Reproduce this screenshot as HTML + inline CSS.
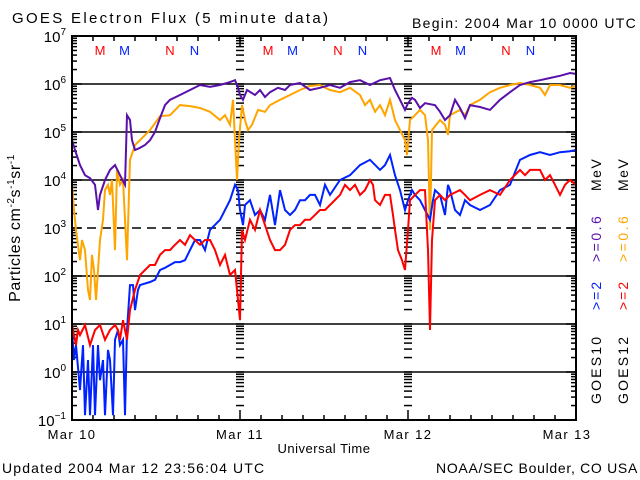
<!DOCTYPE html>
<html><head><meta charset="utf-8">
<style>
html,body{margin:0;padding:0;background:#fff;}
svg{display:block;font-family:"Liberation Sans",sans-serif;}
</style></head>
<body>
<svg id="chart" width="640" height="480" viewBox="0 0 640 480">
<rect x="0" y="0" width="640" height="480" fill="#fff"/>
<text x="12" y="23" font-size="15" letter-spacing="2.3">GOES Electron Flux (5 minute data)</text>
<text x="637" y="28" font-size="14" text-anchor="end" letter-spacing="1.3">Begin: 2004 Mar 10 0000 UTC</text>
<g id="grid"></g>
<g id="ticks"></g>
<g id="series"></g>
<rect x="72" y="36" width="504" height="384" fill="none" stroke="#000" stroke-width="2"/>
<g id="labels" font-size="15"></g>
<text transform="translate(20,228) rotate(-90)" font-size="16" text-anchor="middle" letter-spacing="0.6">Particles cm<tspan font-size="10" dy="-6">-2</tspan><tspan dy="6">s</tspan><tspan font-size="10" dy="-6">-1</tspan><tspan dy="6">sr</tspan><tspan font-size="10" dy="-6">-1</tspan></text>
<text x="324" y="453" font-size="13" text-anchor="middle" letter-spacing="0.5">Universal Time</text>
<text x="2" y="473" font-size="14" letter-spacing="1.15">Updated 2004 Mar 12 23:56:04 UTC</text>
<text x="638" y="473" font-size="14" text-anchor="end" letter-spacing="0.7">NOAA/SEC Boulder, CO USA</text>
<g font-size="14">
  <text transform="translate(601,404) rotate(-90)" fill="#000" letter-spacing="2.2">GOES10</text>
  <text transform="translate(601,310) rotate(-90)" fill="#0022ff" letter-spacing="2">&gt;=2</text>
  <text transform="translate(601,262) rotate(-90)" fill="#5a10aa" letter-spacing="2.5">&gt;=0.6</text>
  <text transform="translate(601,191) rotate(-90)" fill="#000" letter-spacing="1.5">MeV</text>
  <text transform="translate(628,404) rotate(-90)" fill="#000" letter-spacing="2.2">GOES12</text>
  <text transform="translate(628,310) rotate(-90)" fill="#ff0000" letter-spacing="2">&gt;=2</text>
  <text transform="translate(628,262) rotate(-90)" fill="#ffa500" letter-spacing="2.5">&gt;=0.6</text>
  <text transform="translate(628,191) rotate(-90)" fill="#000" letter-spacing="1.5">MeV</text>
</g>
<g id="markers" font-size="13"></g>
</svg>
<script>
const xTickLabels = ["Mar 10","Mar 11","Mar 12","Mar 13"];
const yDecades = [-1,0,1,2,3,4,5,6,7];
const markerHours = [4,7.5,14,17.5,28,31.5,38,41.5,52,55.5,62,65.5];
const markerLetters = ["M","M","N","N","M","M","N","N","M","M","N","N"];
const markerColors = ["#ff0000","#0022ff","#ff0000","#0022ff","#ff0000","#0022ff","#ff0000","#0022ff","#ff0000","#0022ff","#ff0000","#0022ff"];

const g10LowHours = [0,0.43,1.14,1.86,2.57,3.29,3.71,4,4.71,5.43,6.14,6.86,7.57,7.86,8.29,8.57,9,9.71,10.43,11.14,11.86,12.57,13.29,14,15.43,16.86,18.29,19.71,21.14,22.57,23.29,23.71,24,24.43,25,26.14,26.86,27.57,28.29,29.43,30.43,31.14,32.57,34,35.43,36.86,38.29,39.71,41.14,42.57,44,45.43,46.14,46.86,47.57,48,48.57,49,49.71,50.43,51.86,52.57,53.29,54,54.71,55.43,56.14,56.86,58.29,59.71,61.14,62.57,64,65.43,66.86,68.29,69.71,71.14,72];
const g10LowLog = [4.83,4.625,4.31,4.10,4.04,3.90,3.375,3.69,4.0,4.21,4.31,4.10,3.90,5.35,5.25,4.83,4.625,4.67,4.73,4.83,5.0,5.29,5.56,5.67,5.77,5.875,5.98,5.94,5.98,6.04,6.08,5.92,5.77,5.67,5.875,5.77,5.875,5.73,5.83,5.92,5.875,5.98,6.02,5.875,5.92,5.98,5.92,6.04,6.08,5.98,6.08,6.125,5.875,5.67,5.46,5.6,5.71,5.67,5.5,5.6,5.56,5.42,5.25,5.35,5.67,5.5,5.29,5.56,5.52,5.46,5.67,5.83,5.98,6.04,6.08,6.125,6.17,6.23,6.21];

const g12LowHours = [0,0.29,0.57,1.14,1.43,1.86,2.29,2.57,2.86,3.14,3.43,3.71,4,4.43,4.71,5.14,5.43,5.71,6.14,6.43,6.86,7.29,7.57,7.86,8.29,9,9.71,11.14,12.57,14,15.43,16.86,18.29,19.71,21.14,21.86,22.57,23,23.29,23.57,23.86,24.29,24.71,25.14,25.71,26.57,27.57,28.29,29.71,31.14,32.57,34,35.43,36.86,38.29,39.71,41.14,41.86,42.57,43.29,44,44.71,45.43,46.14,46.86,47.57,47.86,48.29,49,49.71,50.43,50.86,51.14,51.43,52.57,53.29,53.71,54,55.43,56.14,56.86,58.29,59.71,61.14,62.57,64,65.43,66.86,67.57,68.29,69.71,71.14,72];
const g12LowLog = [3.9,3.375,2.96,2.33,2.75,2.54,1.71,1.5,2.44,2.125,1.5,2.125,2.75,3.17,3.79,3.9,3.69,4.0,2.54,4.21,3.9,4.0,3.17,2.33,4.42,4.73,4.83,5.04,5.33,5.35,5.56,5.54,5.5,5.42,5.25,5.35,5.15,5.67,4.83,4.0,4.83,5.56,5.25,5.04,5.15,5.46,5.42,5.56,5.67,5.77,5.875,5.96,5.98,5.875,5.83,5.92,5.77,5.56,5.67,5.42,5.56,5.35,5.67,5.25,5.04,4.83,4.52,5.25,5.35,5.46,5.35,4.83,2.96,5.04,5.25,5.15,4.94,5.35,5.46,5.35,5.56,5.67,5.83,5.92,5.98,6.02,5.98,5.92,5.77,5.98,5.98,5.92,5.96];

const g10HighHours = [0,0.29,0.57,1.14,1.57,1.86,2.29,2.57,3,3.29,3.71,4,4.43,4.71,5.14,5.43,5.86,6.14,6.57,6.86,7.29,7.57,7.86,8.29,8.71,9,9.43,9.71,11.14,11.86,12.57,13.29,14,14.71,15.43,16.14,16.86,17.57,18.29,19,19.71,21.14,22.57,23.29,23.71,24,24.43,24.71,25.43,26.14,26.86,27.57,28.29,29,29.71,30.43,31.14,31.86,32.57,33.29,34,34.71,35.43,36.14,36.86,38.29,39.71,41.14,42.57,44,44.71,45.43,46.14,46.86,47.57,48,48.57,49,49.71,50.43,51.14,51.57,51.86,52.57,53.29,53.71,54,54.71,55.43,56.14,56.86,58.29,59.71,61.14,62.57,64,65.43,66.86,68.29,69.71,71.14,72];
const g10HighLog = [0.875,0.25,0.56,-0.375,0.56,-0.9,0.25,-0.9,0.56,-0.9,0.56,-0.17,0.25,-0.9,0.46,0.25,-0.9,0.67,0.875,0.56,0.67,-0.9,0.875,1.81,1.81,1.29,1.71,1.81,1.875,1.92,2.125,2.17,2.23,2.29,2.29,2.33,2.54,2.75,2.75,2.54,2.96,3.17,3.58,3.9,3.79,3.375,3.06,3.48,3.58,3.27,3.375,3.17,3.69,3.06,3.79,3.375,3.27,3.375,3.58,3.58,3.69,3.69,3.48,3.9,3.69,4.0,4.10,4.31,4.42,4.21,4.31,4.52,4.10,3.79,3.375,3.58,3.79,3.69,3.58,3.375,3.17,3.58,3.79,3.69,3.27,3.9,3.79,3.375,3.27,3.58,3.48,3.375,3.48,3.79,3.9,4.42,4.52,4.58,4.52,4.58,4.6,4.625];

const g12HighHours = [0,0.29,0.57,0.86,1.14,1.86,2.57,3.29,4,4.71,5.43,6.14,6.57,6.86,7.29,7.57,7.86,8.29,9,9.71,10.43,11.14,11.86,12.57,13.29,14,14.71,15.43,16.14,16.86,17.57,18.29,19,19.71,20.43,21.14,21.86,22.57,23.29,23.71,24,24.29,24.71,25.43,26.14,26.86,27.57,28.29,29,29.71,30.43,31.14,31.86,32.57,33.29,34,35.43,36.14,36.86,38.29,39,39.71,40.43,41.14,41.86,42.57,43,43.29,44,44.71,45.43,45.86,46.14,46.57,47.14,47.57,48,48.29,49,49.71,50.43,50.86,51.14,51.43,51.86,52.57,53.29,54,55.43,56.14,56.86,58.29,59.71,61.14,62.57,64,64.71,65.43,66.86,67.57,68.29,69,69.71,70.43,71.14,72];
const g12HighLog = [0.98,0.77,0.56,0.875,0.77,0.98,0.56,0.875,0.98,0.67,0.875,0.98,0.875,0.67,1.08,0.875,0.67,1.29,1.71,2.02,2.125,2.23,2.23,2.44,2.54,2.54,2.65,2.75,2.65,2.85,2.75,2.65,2.75,2.75,2.54,2.23,2.44,2.02,2.125,1.5,1.08,2.96,2.75,3.17,2.96,3.375,3.06,2.75,2.54,2.54,2.65,2.96,3.06,3.06,3.17,3.17,3.375,3.375,3.48,3.69,3.9,3.79,3.9,3.69,3.79,4.0,3.9,3.58,3.48,3.69,3.69,3.27,2.96,2.54,2.33,2.125,2.96,3.58,3.69,3.79,3.79,2.54,0.875,2.75,3.58,3.69,3.58,3.69,3.79,3.69,3.58,3.69,3.79,3.69,4.0,4.21,4.10,4.21,4.21,4.0,4.10,3.9,3.69,3.9,4.0,3.9];

const NS = "http://www.w3.org/2000/svg";
const X0 = 72, X1 = 576, Y0 = 36, Y1 = 420, HOURS = 72, LOGMIN = -1, LOGMAX = 7;
function xScale(h){ return X0 + (h/HOURS)*(X1-X0); }
function yScale(l){ return Y1 - (l-LOGMIN)/(LOGMAX-LOGMIN)*(Y1-Y0); }
function mk(tag, parent){ const e = document.createElementNS(NS, tag); parent.appendChild(e); return e; }
function line(parent,x1,y1,x2,y2,w,dash){
  const l = mk('line',parent);
  l.setAttribute('x1',x1); l.setAttribute('y1',y1); l.setAttribute('x2',x2); l.setAttribute('y2',y2);
  l.setAttribute('stroke','#000'); l.setAttribute('stroke-width',w||1);
  if(dash) l.setAttribute('stroke-dasharray',dash);
  return l;
}
const grid = document.getElementById('grid');
yDecades.forEach(d => {
  if (d === LOGMIN || d === LOGMAX) return;
  const l = line(grid, X0, yScale(d), X1, yScale(d), 1.5, d === 3 ? "9,6" : null);
  
  
});
const ticks = document.getElementById('ticks');
for (let h = 0; h <= HOURS; h += 3) {
  const x = xScale(h), major = h % 24 === 0, len = major ? 10 : 5;
  const t1 = line(ticks, x, Y1, x, Y1 - len, 1.5);
  
  
  const t2 = line(ticks, x, Y0, x, Y0 + len, 1.5);
  
  
}
for (let d = LOGMIN; d < LOGMAX; d++) {
  for (let m = 1; m <= 9; m++) {
    const y = yScale(d + Math.log10(m));
    const len = m === 1 ? 10 : 5;
    const a = line(ticks, X0, y, X0 + len, y, 1.5);
    
    
    const b = line(ticks, X1, y, X1 - len, y, 1.5);
    
    
    [24, 48].forEach(h => {
      const c = line(ticks, xScale(h) - 4, y, xScale(h) + 4, y, 1.5);
      
      
    });
  }
}
const labels = document.getElementById('labels');
yDecades.forEach(d => {
  const t = mk('text', labels);
  t.setAttribute('x', 66); t.setAttribute('y', yScale(d) + 6);
  t.setAttribute('text-anchor', 'end');
  
  
  t.textContent = '10';
  const s = mk('tspan', t);
  s.setAttribute('font-size', '10'); s.setAttribute('dy', '-7');
  s.textContent = String(d).replace('-', '\u2212');
});
xTickLabels.forEach((lab, i) => {
  const t = mk('text', labels);
  let x = xScale(i * 24);
  if (i === xTickLabels.length - 1) x -= 9;
  t.setAttribute('x', x); t.setAttribute('y', 439);
  t.setAttribute('text-anchor', 'middle'); t.setAttribute('font-size', '13');
  t.setAttribute('letter-spacing', '1.4');
  
  
  t.textContent = lab;
});
const markers = document.getElementById('markers');
markerHours.forEach((h, i) => {
  const t = mk('text', markers);
  t.setAttribute('x', xScale(h)); t.setAttribute('y', 55);
  t.setAttribute('text-anchor', 'middle'); t.setAttribute('fill', markerColors[i]);
  
  
  t.textContent = markerLetters[i];
});
const series = document.getElementById('series');
function drawSeries(hours, logs, color, name){
  const p = mk('polyline', series);
  p.setAttribute('points', hours.map((h, i) => xScale(h).toFixed(1) + ',' + yScale(logs[i]).toFixed(1)).join(' '));
  p.setAttribute('fill', 'none'); p.setAttribute('stroke', color);
  p.setAttribute('stroke-width', '2'); p.setAttribute('stroke-linejoin', 'miter');
  
  
}
drawSeries(g12LowHours, g12LowLog, '#ffa500', 'series-goes12-low');
drawSeries(g10LowHours, g10LowLog, '#5a10aa', 'series-goes10-low');
drawSeries(g10HighHours, g10HighLog, '#0022ff', 'series-goes10-high');
drawSeries(g12HighHours, g12HighLog, '#ff0000', 'series-goes12-high');
</script>
</body></html>
